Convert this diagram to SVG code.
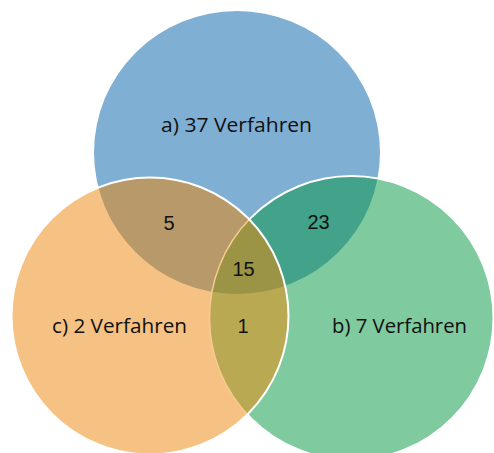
<svg xmlns="http://www.w3.org/2000/svg" width="494" height="453" viewBox="0 0 494 453">
<style>
.lbl{font-family:"Open Sans","Noto Sans","Liberation Sans",sans-serif;font-size:20px;fill:#111;text-anchor:middle}
.num{font-family:"Liberation Sans",Arial,sans-serif;font-size:20px;fill:#111;text-anchor:middle}
.edge{fill:none;stroke:#fff;stroke-width:2}
</style>
<defs>
<ellipse id="A" cx="237" cy="152.5" rx="143" ry="141.5"/>
<circle id="C" cx="150" cy="316" r="138.5"/>
<circle id="B" cx="351.5" cy="318" r="142"/>
<clipPath id="clipA"><use href="#A"/></clipPath>
<clipPath id="clipC"><use href="#C"/></clipPath>
<clipPath id="clipNotC"><path clip-rule="evenodd" d="M0 0H494V453H0Z M11.5 316a138.5 138.5 0 1 0 277 0a138.5 138.5 0 1 0 -277 0Z"/></clipPath>
</defs>
<g id="set-a"><use href="#A" fill="#80AFD4"/></g>
<g id="set-c"><use href="#C" fill="#F6C283"/></g>
<g id="set-b"><use href="#B" fill="#80CA9F"/></g>
<g id="overlaps">
<g id="a-c" clip-path="url(#clipA)"><use href="#C" fill="#B89A6A"/></g>
<g id="a-b" clip-path="url(#clipA)"><use href="#B" fill="#42A38A"/></g>
<g id="b-c" clip-path="url(#clipC)"><use href="#B" fill="#B9A952"/></g>
<g id="a-b-c" clip-path="url(#clipA)"><g clip-path="url(#clipC)"><use href="#B" fill="#9A9444"/></g></g>
</g>
<g id="edges">
<g clip-path="url(#clipNotC)"><use href="#B" class="edge"/></g>
<g clip-path="url(#clipC)"><use href="#B" fill="none" stroke="#F8CB90" stroke-width="1.5"/></g>
<use href="#C" class="edge"/>
</g>
<g id="labels">
<text class="lbl" x="236.5" y="132" textLength="151" lengthAdjust="spacingAndGlyphs">a) 37 Verfahren</text>
<text class="lbl" x="119.5" y="333" textLength="135" lengthAdjust="spacingAndGlyphs">c) 2 Verfahren</text>
<text class="lbl" x="399.5" y="333" textLength="135" lengthAdjust="spacingAndGlyphs">b) 7 Verfahren</text>
<text class="num" x="169" y="230">5</text>
<text class="num" x="318.5" y="229">23</text>
<text class="num" x="243.5" y="276">15</text>
<text class="num" x="243" y="333">1</text>
</g>
</svg>
